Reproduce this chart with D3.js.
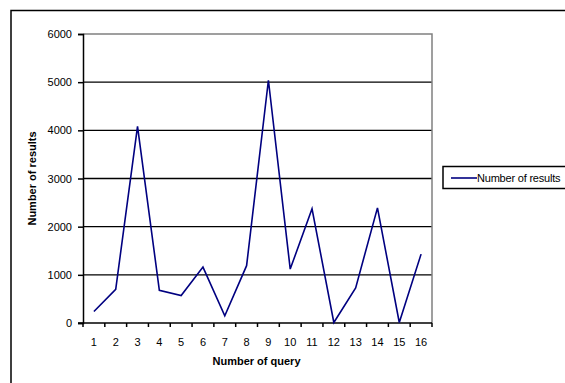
<!DOCTYPE html>
<html>
<head>
<meta charset="utf-8">
<script src="https://cdn.jsdelivr.net/npm/d3@7"></script>
<style>
  html, body { margin: 0; padding: 0; background: #fff; }
  svg { display: block; font-family: "Liberation Sans", Arial, sans-serif; }
</style>
</head>
<body>
<svg id="chart" width="565" height="383"></svg>
<script>
// Query numbers and the number of results returned for each
const queries = [1, 2, 3, 4, 5, 6, 7, 8, 9, 10, 11, 12, 13, 14, 15, 16];
const results = [240, 700, 4080, 680, 570, 1160, 150, 1190, 5040, 1120, 2370, 10, 730, 2390, 10, 1430];
const yTicks = [0, 1000, 2000, 3000, 4000, 5000, 6000];
const seriesName = "Number of results";

const svg = d3.select("#chart");
const plot = { left: 83, right: 432, top: 34, bottom: 323 };
const FONT = "Liberation Sans, Arial, sans-serif";

// Outer chart frame (continues past the window edges)
svg.append("rect")
  .attr("x", 11).attr("y", 10.5)
  .attr("width", 600).attr("height", 400)
  .attr("fill", "#fff").attr("stroke", "#000").attr("stroke-width", 1.5);

const x = d3.scaleBand().domain(queries).range([plot.left, plot.right]);
const y = d3.scaleLinear().domain([0, 6000]).range([plot.bottom, plot.top]);

// Horizontal gridlines
svg.append("g").selectAll("line")
  .data(yTicks.filter(d => d > 0 && d < 6000))
  .join("line")
  .attr("x1", plot.left).attr("x2", plot.right)
  .attr("y1", d => y(d)).attr("y2", d => y(d))
  .attr("stroke", "#000").attr("stroke-width", 1.4);

// Plot area border (top and right in grey)
svg.append("path")
  .attr("d", `M${plot.left},${plot.top}H${plot.right}V${plot.bottom}`)
  .attr("fill", "none").attr("stroke", "#808080").attr("stroke-width", 1.5);

// Y axis
const yAxis = d3.axisLeft(y).tickValues(yTicks).tickFormat(d3.format("d")).tickSize(5).tickPadding(6);
const gy = svg.append("g").attr("transform", `translate(${plot.left},0)`).call(yAxis);
gy.select(".domain").attr("stroke", "#000").attr("stroke-width", 1.5);
gy.selectAll(".tick line").attr("stroke", "#000").attr("stroke-width", 1.5);
gy.selectAll("text").attr("font-size", 11).attr("fill", "#000").attr("font-family", FONT);

// X axis: ticks sit between categories
const gx = svg.append("g").attr("transform", `translate(0,${plot.bottom})`);
gx.append("line")
  .attr("x1", plot.left - 5).attr("x2", plot.right)
  .attr("stroke", "#000").attr("stroke-width", 1.5);
const edges = queries.map(q => x(q)).concat([x(queries[queries.length - 1]) + x.bandwidth()]);
gx.selectAll(".xtick").data(edges).join("line")
  .attr("x1", d => d).attr("x2", d => d)
  .attr("y1", 0).attr("y2", 4)
  .attr("stroke", "#000").attr("stroke-width", 1.5);
gx.selectAll(".xlabel").data(queries).join("text")
  .attr("x", d => x(d) + x.bandwidth() / 2)
  .attr("y", 23)
  .attr("text-anchor", "middle")
  .attr("font-size", 11)
  .text(d => d);

// Axis titles
svg.append("text")
  .attr("x", (plot.left + plot.right) / 2 - 1).attr("y", 365)
  .attr("text-anchor", "middle").attr("font-size", 11).attr("font-weight", "bold")
  .text("Number of query");
svg.append("text")
  .attr("transform", `translate(36,${(plot.top + plot.bottom) / 2}) rotate(-90)`)
  .attr("text-anchor", "middle").attr("font-size", 11).attr("font-weight", "bold")
  .text("Number of results");

// Data line
const line = d3.line()
  .x((d, i) => x(queries[i]) + x.bandwidth() / 2)
  .y(d => y(d));
svg.append("path")
  .datum(results)
  .attr("d", line)
  .attr("fill", "none").attr("stroke", "#000080").attr("stroke-width", 1.6)
  .attr("stroke-linejoin", "miter");

// Legend
const lg = svg.append("g");
lg.append("rect")
  .attr("x", 443).attr("y", 166.5).attr("width", 140).attr("height", 22)
  .attr("fill", "#fff").attr("stroke", "#000").attr("stroke-width", 1.5);
lg.append("line")
  .attr("x1", 451).attr("x2", 477).attr("y1", 178).attr("y2", 178)
  .attr("stroke", "#000080").attr("stroke-width", 1.6);
lg.append("text")
  .attr("x", 477).attr("y", 182).attr("font-size", 11)
  .attr("letter-spacing", -0.2)
  .text(seriesName);
</script>
</body>
</html>
